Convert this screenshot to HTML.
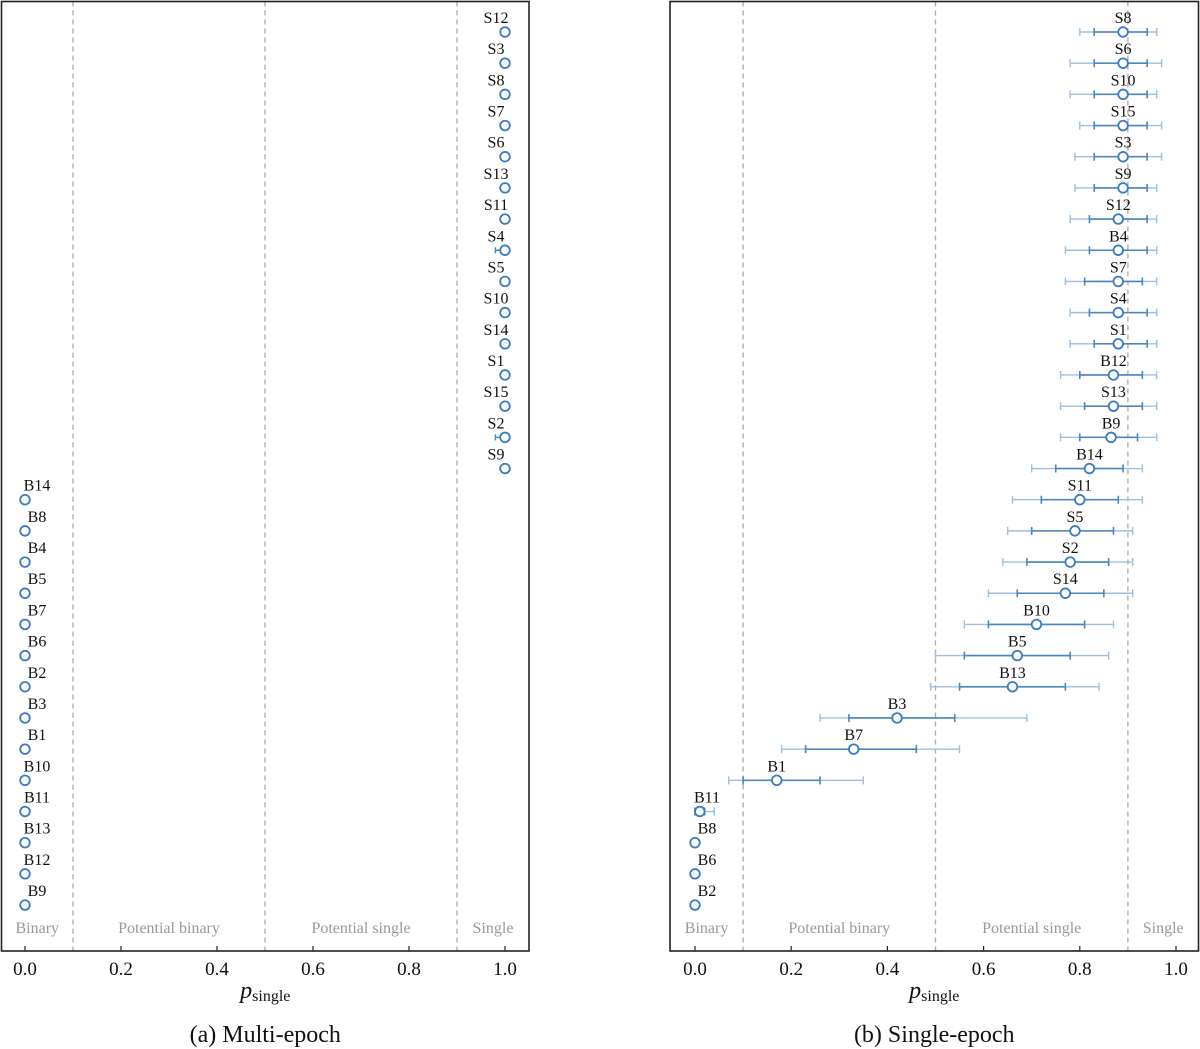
<!DOCTYPE html>
<html><head><meta charset="utf-8"><style>
html,body{margin:0;padding:0;background:#fff;}
svg{display:block;font-family:"Liberation Serif","DejaVu Serif",serif;}
</style></head><body>
<svg id="chart" width="1200" height="1049" viewBox="0 0 1200 1049" xmlns="http://www.w3.org/2000/svg"></svg>
<script>
const leftNames = ["S12","S3","S8","S7","S6","S13","S11","S4","S5","S10","S14","S1","S15","S2","S9","B14","B8","B4","B5","B7","B6","B2","B3","B1","B10","B11","B13","B12","B9"];
const leftValues = [1,1,1,1,1,1,1,1,1,1,1,1,1,1,1,0,0,0,0,0,0,0,0,0,0,0,0,0,0];
const leftLow = [1,1,1,1,1,1,1,0.98,1,1,1,1,1,0.98,1,0,0,0,0,0,0,0,0,0,0,0,0,0,0];
const rightNames = ["S8","S6","S10","S15","S3","S9","S12","B4","S7","S4","S1","B12","S13","B9","B14","S11","S5","S2","S14","B10","B5","B13","B3","B7","B1","B11","B8","B6","B2"];
const rightValues = [0.89,0.89,0.89,0.89,0.89,0.89,0.88,0.88,0.88,0.88,0.88,0.87,0.87,0.865,0.82,0.80,0.79,0.78,0.77,0.71,0.67,0.66,0.42,0.33,0.17,0.01,0,0,0];
const innerLow = [0.83,0.83,0.83,0.83,0.83,0.83,0.82,0.82,0.81,0.82,0.83,0.80,0.81,0.80,0.75,0.72,0.70,0.69,0.67,0.61,0.56,0.55,0.32,0.23,0.10,0.0,0,0,0];
const innerHigh = [0.94,0.94,0.94,0.94,0.94,0.94,0.94,0.94,0.93,0.94,0.94,0.93,0.93,0.92,0.89,0.88,0.87,0.86,0.85,0.81,0.78,0.77,0.54,0.46,0.26,0.02,0,0,0];
const outerLow = [0.80,0.78,0.78,0.80,0.79,0.79,0.78,0.77,0.77,0.78,0.78,0.76,0.76,0.76,0.70,0.66,0.65,0.64,0.61,0.56,0.50,0.49,0.26,0.18,0.07,0.0,0,0,0];
const outerHigh = [0.96,0.97,0.96,0.97,0.97,0.96,0.96,0.96,0.96,0.96,0.96,0.96,0.96,0.96,0.93,0.93,0.91,0.91,0.91,0.87,0.86,0.84,0.69,0.55,0.35,0.04,0,0,0];
const tickValues = [0,0.2,0.4,0.6,0.8,1.0];
const tickLabels = ["0.0","0.2","0.4","0.6","0.8","1.0"];
const thresholds = [0.1,0.5,0.9];
const regionNames = ["Binary","Potential binary","Potential single","Single"];

const NS="http://www.w3.org/2000/svg";
const svg=document.getElementById('chart');
function mk(tag,attrs,parent){const e=document.createElementNS(NS,tag);for(const k in attrs)e.setAttribute(k,attrs[k]);(parent||svg).appendChild(e);return e;}
function rowY(i){return 32+31.18*i;}

function panel(cfg){
  const g=mk('g',{});
  
  
  const sx=v=>cfg.x0+cfg.scale*v;
  const L=cfg.left,R=cfg.right,T=1.5,B=951;
  thresholds.forEach(t=>{
    const l=mk('line',{x1:sx(t),x2:sx(t),y1:T,y2:B,stroke:'#aaa','stroke-width':1.3,'stroke-dasharray':'5,4'},g);
    
    
  });
  const bounds=[L,sx(0.1),sx(0.5),sx(0.9),R];
  regionNames.forEach((n,i)=>{
    const t=mk('text',{x:(bounds[i]+bounds[i+1])/2,y:933,'text-anchor':'middle','font-size':16,fill:'#999'},g);
    t.textContent=n;
    
    
  });
  cfg.names.forEach((n,i)=>{
    const y=rowY(i),v=cfg.values[i];
    if(cfg.oLo){
      const lo=cfg.oLo[i],hi=cfg.oHi[i];
      if(hi>lo){
        const e=mk('path',{d:`M${sx(lo)},${y}H${sx(hi)}M${sx(lo)},${y-4}V${y+4}M${sx(hi)},${y-4}V${y+4}`,stroke:'#9ebfe0','stroke-width':1.4,fill:'none'},g);
        
        
      }
      const ilo=cfg.iLo[i],ihi=cfg.iHi[i];
      if(ihi>ilo){
        const e=mk('path',{d:`M${sx(ilo)},${y}H${sx(ihi)}M${sx(ilo)},${y-4}V${y+4}M${sx(ihi)},${y-4}V${y+4}`,stroke:'#4a86c0','stroke-width':1.6,fill:'none'},g);
        
        
      }
    }
    if(cfg.low && cfg.low[i]<v){
      const e=mk('path',{d:`M${sx(cfg.low[i])},${y}H${sx(v)}M${sx(cfg.low[i])},${y-3}V${y+3}`,stroke:'#4a86c0','stroke-width':1.4,fill:'none'},g);
      
      
    }
    const c=mk('circle',{cx:sx(v),cy:y,r:4.8,fill:'#fff',stroke:'#3a7bbf','stroke-width':1.8},g);
    
    
    let lx=Math.min(Math.max(sx(v),cfg.x0+12),cfg.x0+cfg.scale-9);
    const t=mk('text',{x:lx,y:y-9,'text-anchor':'middle','font-size':16,fill:'#111'},g);
    t.textContent=n;
    
    
  });
  const f=mk('rect',{x:L,y:T,width:R-L,height:B-T,fill:'none',stroke:'#222','stroke-width':1.6},g);
  
  
  tickValues.forEach((v,i)=>{
    const tk=mk('line',{x1:sx(v),x2:sx(v),y1:B,y2:B-5,stroke:'#222','stroke-width':1.2},g);
    
    
    const t=mk('text',{x:sx(v),y:975,'text-anchor':'middle','font-size':19,fill:'#111'},g);
    t.textContent=tickLabels[i];
    
    
  });
  const xl=mk('text',{x:(L+R)/2,y:998,'text-anchor':'middle','font-size':24,fill:'#111'},g);
  
  
  const p=mk('tspan',{'font-style':'italic'},xl);p.textContent='p';
  const s=mk('tspan',{'font-size':16,dy:3},xl);s.textContent='single';
  const cap=mk('text',{x:(L+R)/2,y:1042,'text-anchor':'middle','font-size':24,fill:'#111'},g);
  cap.textContent=cfg.caption;
  
  
}
panel({name:'multi-epoch-panel',left:1.5,right:529,x0:25,scale:480,names:leftNames,values:leftValues,low:leftLow,caption:'(a)  Multi-epoch'});
panel({name:'single-epoch-panel',left:670,right:1198.5,x0:695,scale:481,names:rightNames,values:rightValues,iLo:innerLow,iHi:innerHigh,oLo:outerLow,oHi:outerHigh,caption:'(b)  Single-epoch'});
</script>
</body></html>
